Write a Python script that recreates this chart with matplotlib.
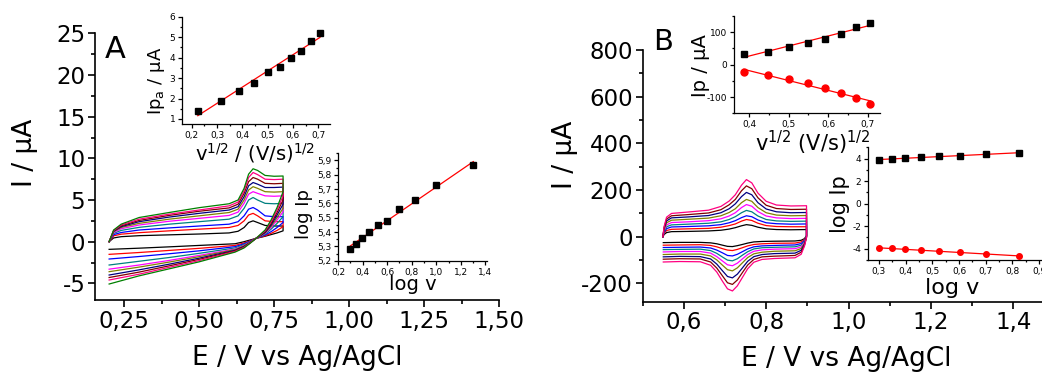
import numpy as np
import matplotlib
matplotlib.use('Agg')
import matplotlib.pyplot as plt
from matplotlib.ticker import MultipleLocator, FuncFormatter

plt.rcParams['font.family'] = ['DejaVu Sans']
plt.rcParams['axes.unicode_minus'] = False
plt.rcParams['mathtext.default'] = 'regular'

# curve colours (lowest scan rate first)
colors = ['#000000', '#FF0000', '#0000FF', '#008080', '#FF00FF',
          '#808000', '#000080', '#800000', '#FF0080', '#008000']

# ---- panel A : CVs ----
e_fwd_a = [0.20, 0.215, 0.24, 0.30, 0.40, 0.50, 0.60, 0.63, 0.65, 0.665, 0.68, 0.695, 0.72, 0.75, 0.78]
i_fwd_a = [
    [0, 0.45, 0.60, 0.72, 0.82, 0.92, 1.05, 1.25, 1.70, 2.30, 2.50, 2.30, 1.95, 1.88, 1.88],
    [0, 0.70, 0.90, 1.08, 1.30, 1.50, 1.70, 1.95, 2.50, 3.20, 3.40, 3.10, 2.50, 2.40, 2.40],
    [0, 0.85, 1.10, 1.40, 1.65, 1.88, 2.10, 2.40, 3.10, 3.90, 4.10, 3.80, 3.10, 3.00, 3.00],
    [0, 1.00, 1.35, 1.72, 2.10, 2.40, 2.70, 3.10, 4.00, 5.00, 5.30, 5.00, 4.60, 4.55, 4.60],
    [0, 1.10, 1.55, 2.00, 2.45, 2.80, 3.15, 3.55, 4.60, 5.70, 6.00, 5.80, 5.50, 5.45, 5.50],
    [0, 1.20, 1.70, 2.20, 2.70, 3.10, 3.50, 3.90, 5.00, 6.20, 6.60, 6.40, 6.00, 5.95, 6.00],
    [0, 1.25, 1.80, 2.40, 2.95, 3.40, 3.80, 4.20, 5.40, 6.70, 7.10, 6.90, 6.50, 6.50, 6.55],
    [0, 1.30, 1.90, 2.55, 3.15, 3.65, 4.05, 4.50, 5.80, 7.20, 7.70, 7.50, 7.00, 6.95, 7.00],
    [0, 1.35, 2.00, 2.70, 3.30, 3.80, 4.30, 4.75, 6.10, 7.70, 8.30, 8.05, 7.50, 7.45, 7.50],
    [0, 1.40, 2.10, 2.90, 3.50, 4.08, 4.55, 5.00, 6.40, 8.10, 8.75, 8.55, 7.95, 7.85, 7.88],
]
e_rev_a = [0.78, 0.76, 0.74, 0.72, 0.69, 0.67, 0.65, 0.62, 0.50, 0.40, 0.30, 0.20]
i_rev_a = [
    [1.3, 1.05, 0.85, 0.65, 0.4, 0.20, 0.00, -0.25, -0.45, -0.62, -0.78, -0.92],
    [1.8, 1.35, 1.00, 0.70, 0.4, 0.10, -0.15, -0.45, -0.80, -1.05, -1.30, -1.52],
    [2.3, 1.70, 1.20, 0.80, 0.4, 0.05, -0.25, -0.60, -1.10, -1.45, -1.78, -2.08],
    [3.0, 2.20, 1.50, 0.90, 0.4, 0.00, -0.35, -0.75, -1.40, -1.90, -2.35, -2.80],
    [3.6, 2.60, 1.70, 1.00, 0.4, -0.05, -0.45, -0.88, -1.65, -2.25, -2.80, -3.30],
    [4.0, 2.90, 1.85, 1.05, 0.4, -0.08, -0.50, -0.95, -1.80, -2.45, -3.05, -3.60],
    [4.5, 3.20, 2.00, 1.10, 0.4, -0.10, -0.57, -1.03, -1.98, -2.70, -3.38, -4.00],
    [5.0, 3.50, 2.20, 1.20, 0.4, -0.13, -0.63, -1.10, -2.12, -2.90, -3.65, -4.30],
    [5.5, 3.80, 2.40, 1.30, 0.4, -0.16, -0.69, -1.18, -2.27, -3.08, -3.90, -4.60],
    [6.0, 4.10, 2.60, 1.40, 0.4, -0.20, -0.75, -1.25, -2.42, -3.26, -4.10, -5.08],
]

# ---- panel B : CVs ----
e_fwd_b = [0.549, 0.552, 0.558, 0.570, 0.610, 0.660, 0.690, 0.710, 0.725, 0.740,
           0.752, 0.765, 0.780, 0.800, 0.825, 0.860, 0.898]
i_fwd_b = [
    [0, 10, 18, 22, 23, 25, 28, 33, 39, 47, 52, 49, 41, 34, 31, 30, 31],
    [0, 14, 27, 32, 34, 36, 41, 48, 55, 67, 74, 70, 58, 48, 44, 43, 43],
    [0, 18, 35, 42, 44, 47, 52, 60, 69, 82, 90, 86, 72, 60, 56, 54, 55],
    [0, 22, 43, 51, 54, 58, 64, 74, 86, 103, 113, 107, 89, 74, 68, 66, 67],
    [0, 27, 51, 61, 64, 69, 77, 89, 103, 125, 138, 131, 108, 89, 81, 78, 79],
    [0, 31, 60, 71, 75, 80, 90, 104, 120, 146, 160, 152, 125, 103, 93, 90, 91],
    [0, 36, 68, 81, 85, 91, 103, 120, 141, 172, 190, 180, 146, 119, 107, 103, 104],
    [0, 40, 76, 90, 95, 102, 116, 137, 160, 197, 218, 206, 167, 135, 121, 117, 118],
    [0, 44, 84, 100, 106, 114, 130, 153, 180, 221, 245, 231, 187, 152, 136, 132, 133],
]
e_rev_b = [0.898, 0.893, 0.885, 0.870, 0.820, 0.790, 0.770, 0.755, 0.742, 0.730,
           0.718, 0.706, 0.694, 0.680, 0.665, 0.640, 0.590, 0.550]
i_rev_b = [
    [5, -8, -15, -18, -19, -20, -22, -27, -33, -38, -42, -41, -36, -30, -26, -24, -24, -25],
    [4, -12, -22, -27, -28, -30, -33, -39, -47, -54, -59, -57, -51, -43, -37, -34, -35, -36],
    [3, -16, -29, -35, -37, -39, -43, -52, -64, -75, -82, -80, -69, -57, -48, -44, -45, -46],
    [2, -20, -36, -43, -45, -47, -52, -64, -79, -94, -103, -100, -87, -71, -59, -53, -54, -55],
    [1, -24, -43, -51, -53, -56, -62, -76, -95, -113, -124, -120, -104, -85, -70, -63, -63, -65],
    [0, -28, -50, -60, -62, -66, -73, -89, -112, -133, -146, -141, -122, -99, -82, -74, -74, -76],
    [-1, -32, -58, -70, -72, -76, -85, -105, -134, -160, -176, -170, -146, -117, -95, -85, -84, -86],
    [-2, -36, -66, -80, -83, -86, -97, -121, -154, -185, -204, -197, -168, -134, -108, -95, -94, -96],
    [-3, -40, -75, -90, -93, -97, -109, -137, -175, -210, -232, -223, -191, -151, -122, -107, -106, -108],
]

# ---- insets ----
sqrt_v_a = [0.224, 0.316, 0.387, 0.447, 0.500, 0.548, 0.592, 0.632, 0.671, 0.707]
ipa_a = [1.38, 1.90, 2.38, 2.75, 3.32, 3.56, 4.00, 4.33, 4.82, 5.22]
logv_a = [0.301, 0.347, 0.398, 0.456, 0.523, 0.602, 0.699, 0.824, 1.000, 1.301]
logip_a = [5.282, 5.317, 5.361, 5.398, 5.447, 5.478, 5.560, 5.625, 5.728, 5.865]

sqrt_v_b = [0.387, 0.447, 0.500, 0.548, 0.592, 0.632, 0.671, 0.707]
ipa_b = [32, 40, 53, 66, 79, 95, 115, 129]
ipc_b = [-23, -33, -44, -57, -71, -86, -104, -120]
logv_b = [0.301, 0.347, 0.398, 0.456, 0.523, 0.602, 0.699, 0.824]
logipa_b = [3.91, 3.94, 4.03, 4.12, 4.20, 4.26, 4.38, 4.50]
logipc_b = [-3.90, -3.97, -4.06, -4.15, -4.24, -4.32, -4.47, -4.62]


def comma(fmt):
    return FuncFormatter(lambda v, p: fmt.format(v).replace('.', ','))


def style(ax, size, major, minor, xmaj, xmin, ymaj, ymin, xfmt, yfmt, lw=1.0):
    for s in ['top', 'right']:
        ax.spines[s].set_visible(False)
    for s in ['left', 'bottom']:
        ax.spines[s].set_linewidth(lw)
    ax.xaxis.set_major_locator(MultipleLocator(xmaj))
    ax.xaxis.set_minor_locator(MultipleLocator(xmin))
    ax.yaxis.set_major_locator(MultipleLocator(ymaj))
    ax.yaxis.set_minor_locator(MultipleLocator(ymin))
    ax.xaxis.set_major_formatter(comma(xfmt))
    ax.yaxis.set_major_formatter(comma(yfmt))
    ax.tick_params(which='major', direction='out', length=major, width=lw,
                   labelsize=size, pad=2)
    ax.tick_params(which='minor', direction='out', length=minor, width=lw)
    ax.set_facecolor('none')


def fit_line(ax, x, y):
    k, b = np.polyfit(x, y, 1)
    xs = np.array([x[0], x[-1]])
    ax.plot(xs, k * xs + b, color='red', lw=0.9, zorder=2)


fig = plt.figure(figsize=(10.42, 3.72), dpi=100)

# panel A main
axA = fig.add_axes([0.0912, 0.1935, 0.3877, 0.7169])
for i in range(len(i_fwd_a)):
    axA.plot(e_fwd_a + e_rev_a, i_fwd_a[i] + i_rev_a[i], color=colors[i], lw=0.9)
axA.set_xlim(0.153, 1.5)
axA.set_ylim(-7, 25)
style(axA, 16.5, 5, 3, 0.25, 0.125, 5, 2.5, '{:.2f}', '{:.0f}', lw=1.2)
axA.set_xlabel('E / V vs Ag/AgCl', fontsize=19)
axA.set_ylabel('I / µA', fontsize=19)
axA.xaxis.set_label_coords(0.5, -0.17)
axA.yaxis.set_label_coords(-0.141, 0.55)
axA.text(0.025, 0.995, 'A', transform=axA.transAxes, fontsize=22, va='top')

# panel B main
axB = fig.add_axes([0.6168, 0.189, 0.395, 0.6766])
for i in range(len(i_fwd_b)):
    axB.plot(e_fwd_b + e_rev_b, i_fwd_b[i] + i_rev_b[i], color=colors[i], lw=0.9)
axB.set_xlim(0.5, 1.5)
axB.set_ylim(-278, 800)
style(axB, 16.5, 5, 3, 0.2, 0.1, 200, 100, '{:.1f}', '{:.0f}', lw=1.2)
axB.set_xlabel('E / V vs Ag/AgCl', fontsize=19)
axB.set_ylabel('I / µA', fontsize=19)
axB.xaxis.set_label_coords(0.494, -0.178)
axB.yaxis.set_label_coords(-0.157, 0.583)
fig.text(0.6267, 0.925, 'B', fontsize=21, va='top')

# inset A1: Ipa vs v^1/2
a1 = fig.add_axes([0.175, 0.6659, 0.142, 0.2892])
fit_line(a1, sqrt_v_a, ipa_a)
a1.plot(sqrt_v_a, ipa_a, 's', color='black', ms=4, zorder=3)
a1.set_xlim(0.163, 0.748)
a1.set_ylim(0.74, 6)
style(a1, 6.5, 3, 1.5, 0.1, 0.05, 1, 0.5, '{:.1f}', '{:.0f}', lw=0.9)
a1.set_ylabel('Ip$_a$ / µA', fontsize=13)
a1.set_xlabel('v$^{1/2}$ / (V/s)$^{1/2}$', fontsize=14)
a1.yaxis.set_label_coords(-0.105, 0.40)
a1.xaxis.set_label_coords(0.49, -0.155)

# inset A2: log Ip vs log v
a2 = fig.add_axes([0.3244, 0.2992, 0.1427, 0.2887])
fit_line(a2, logv_a, logip_a)
a2.plot(logv_a, logip_a, 's', color='black', ms=4, zorder=3)
a2.set_xlim(0.2, 1.41)
a2.set_ylim(5.2, 5.95)
style(a2, 6.5, 3, 1.5, 0.2, 0.1, 0.1, 0.05, '{:.1f}', '{:.1f}', lw=0.9)
a2.set_ylabel('log Ip', fontsize=13)
a2.set_xlabel('log v', fontsize=14)
a2.yaxis.set_label_coords(-0.166, 0.435)
a2.xaxis.set_label_coords(0.5, -0.13)

# inset B1: Ip vs v^1/2
b1 = fig.add_axes([0.7044, 0.6954, 0.1401, 0.2616])
fit_line(b1, sqrt_v_b, ipa_b)
fit_line(b1, sqrt_v_b, ipc_b)
b1.plot(sqrt_v_b, ipa_b, 's', color='black', ms=5, zorder=3)
b1.plot(sqrt_v_b, ipc_b, 'o', color='red', ms=5, zorder=3)
b1.set_xlim(0.362, 0.731)
b1.set_ylim(-150, 150)
style(b1, 6.5, 3, 1.5, 0.1, 0.05, 100, 50, '{:.1f}', '{:.0f}', lw=0.9)
b1.set_ylabel('Ip / µA', fontsize=14)
b1.set_xlabel('v$^{1/2}$ (V/s)$^{1/2}$', fontsize=15)
b1.yaxis.set_label_coords(-0.164, 0.486)
b1.xaxis.set_label_coords(0.54, -0.16)

# inset B2: log Ip vs log v
b2 = fig.add_axes([0.8333, 0.301, 0.1768, 0.303])
fit_line(b2, logv_b, logipa_b)
fit_line(b2, logv_b, logipc_b)
b2.plot(logv_b, logipa_b, 's', color='black', ms=4, zorder=3)
b2.plot(logv_b, logipc_b, 'o', color='red', ms=4, zorder=3)
b2.set_xlim(0.26, 0.95)
b2.set_ylim(-5, 5)
style(b2, 6.5, 3, 1.5, 0.1, 0.05, 2, 1, '{:.1f}', '{:.0f}', lw=0.9)
b2.set_ylabel('log Ip', fontsize=15)
b2.set_xlabel('log v', fontsize=16)
b2.yaxis.set_label_coords(-0.10, 0.50)
b2.xaxis.set_label_coords(0.457, -0.16)

fig.savefig('out.png', dpi=100)
